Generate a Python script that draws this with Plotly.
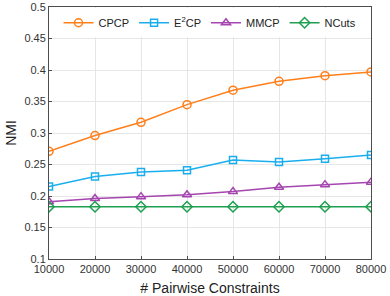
import plotly.graph_objects as go

constraints = [10000, 20000, 30000, 40000, 50000, 60000, 70000, 80000]
cpcp = [0.271, 0.296, 0.317, 0.345, 0.368, 0.382, 0.391, 0.397]
e2cp = [0.215, 0.231, 0.238, 0.241, 0.257, 0.254, 0.259, 0.265]
mmcp = [0.191, 0.196, 0.199, 0.202, 0.207, 0.214, 0.218, 0.222]
ncuts = [0.183, 0.183, 0.183, 0.183, 0.183, 0.183, 0.183, 0.183]

series = [
    ("CPCP", cpcp, "#FF7F1A", "circle-open", 8),
    ("E<sup>2</sup>CP", e2cp, "#1AAEEE", "square-open", 7),
    ("MMCP", mmcp, "#A545B0", "triangle-up-open", 8),
    ("NCuts", ncuts, "#1EA050", "diamond-open", 8),
]

FONT = "Liberation Sans, Arial, sans-serif"

fig = go.Figure()
for name, vals, col, sym, sz in series:
    fig.add_trace(go.Scatter(
        x=constraints, y=vals, name=name, mode="lines+markers",
        line=dict(color=col, width=1.5),
        marker=dict(symbol=sym, size=sz, color=col, line=dict(width=1.5, color=col)),
    ))

axis_common = dict(
    showgrid=True, gridcolor="#E6E6E6", gridwidth=1,
    showline=True, linecolor="#4D4D4D", linewidth=1, mirror=True,
    ticks="inside", ticklen=3, tickcolor="#4D4D4D",
    tickfont=dict(family=FONT, size=11, color="#333333"),
    zeroline=False, automargin=False,
)

fig.update_layout(
    width=390, height=296,
    margin=dict(l=49, r=19, t=7, b=37),
    paper_bgcolor="white", plot_bgcolor="white",
    showlegend=True,
    legend=dict(orientation="h", x=0.5, y=0.995, xanchor="center", yanchor="top",
                bgcolor="rgba(255,255,255,1)",
                font=dict(family=FONT, size=11, color="#222222"),
                itemwidth=30, tracegroupgap=0),
    xaxis=dict(range=[10000, 80000], tickvals=constraints,
               ticktext=[str(v) for v in constraints],
               title=dict(text="# Pairwise Constraints", standoff=8,
                          font=dict(family=FONT, size=14, color="#222222")),
               **axis_common),
    yaxis=dict(range=[0.1, 0.5], dtick=0.05, tick0=0.1,
               title=dict(text="NMI", standoff=4,
                          font=dict(family=FONT, size=14, color="#222222")),
               **axis_common),
)

fig.write_html("out.html", config={"displayModeBar": False},
               post_script="document.body.style.margin='0';document.body.style.padding='0';")
